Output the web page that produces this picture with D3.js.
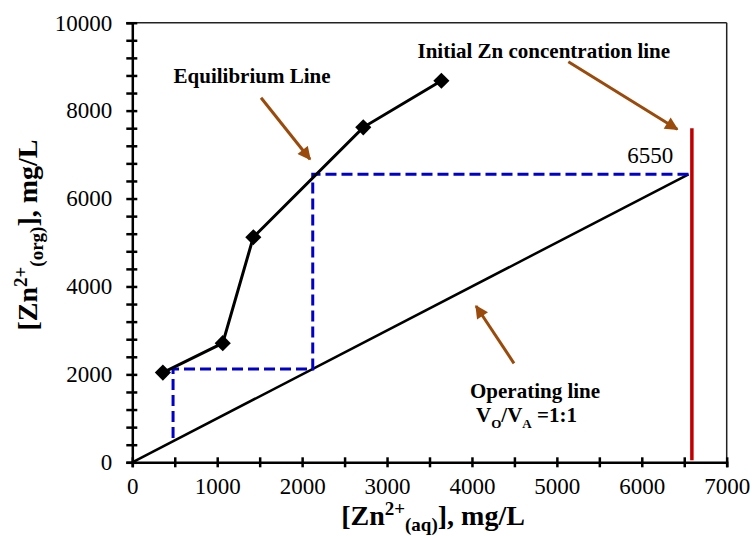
<!DOCTYPE html>
<html lang="en">
<head>
<meta charset="utf-8">
<title>Zn McCabe-Thiele</title>
<script src="https://cdn.jsdelivr.net/npm/d3@7"></script>
<style>
  body { margin: 0; background: #fff; }
  svg text { font-family: "Liberation Serif", "Times New Roman", serif; }
  .axis path, .axis line { stroke: #000; stroke-width: 2.5; fill: none; }
  .axis text { font-size: 23px; fill: #000; }
  .ann { font-weight: bold; font-size: 21px; }
</style>
</head>
<body>
<script>
// equilibrium data (aqueous vs organic Zn, mg/L)
var eqAq  = [360, 1065, 1425, 2720, 3640];
var eqOrg = [2040, 2710, 5120, 7620, 8680];

// operating line, VO/VA = 1:1
var opAq  = [0, 6550];
var opOrg = [0, 6550];

// stage stepping (dashed)
var stepAq  = [6550, 2125, 2125, 480, 480];
var stepOrg = [6550, 6550, 2125, 2125, 480];

// initial concentration line
var initAq = 6590;
var initTop = 7600;

var xTicks = d3.range(0, 7001, 500);
var yTicks = d3.range(0, 10001, 400);

var w = 753, h = 536;
var mLeft = 132.3, mTop = 22.7, pw = 594.4, ph = 439.6;
var serif = "'Liberation Serif', 'Times New Roman', serif";

var svg = d3.select("body").append("svg")
  .attr("width", w).attr("height", h)
  .attr("font-family", serif);

var x = d3.scaleLinear().domain([0, 7000]).range([mLeft, mLeft + pw]);
var y = d3.scaleLinear().domain([0, 10000]).range([mTop + ph, mTop]);

// frame on top / right
svg.append("line").attr("x1", x(0)).attr("x2", x(7000)).attr("y1", y(10000)).attr("y2", y(10000))
  .attr("stroke", "#222").attr("stroke-width", 1.5);
svg.append("line").attr("x1", x(7000)).attr("x2", x(7000)).attr("y1", y(10000)).attr("y2", y(0))
  .attr("stroke", "#222").attr("stroke-width", 1.5);

var xAxis = d3.axisBottom(x).tickValues(xTicks).tickSizeOuter(0).tickSize(5)
  .tickFormat(function(d) { return d % 1000 === 0 ? d : ""; });
var yAxis = d3.axisLeft(y).tickValues(yTicks).tickSizeOuter(0).tickSize(6)
  .tickFormat(function(d) { return d % 2000 === 0 ? d : ""; });

var gx = svg.append("g").attr("class", "axis")
  .attr("transform", "translate(0," + y(0) + ")").call(xAxis)
  .attr("font-family", serif).attr("font-size", 23);
gx.selectAll(".tick line").attr("y1", -5);
gx.selectAll(".tick text").attr("dy", "1.05em").attr("y", 8);

var gy = svg.append("g").attr("class", "axis")
  .attr("transform", "translate(" + x(0) + ",0)").call(yAxis)
  .attr("font-family", serif).attr("font-size", 23);
gy.selectAll(".tick line").attr("x1", 5);
gy.selectAll(".tick text").attr("x", -20);

// red initial concentration line
svg.append("line")
  .attr("x1", x(initAq)).attr("x2", x(initAq))
  .attr("y1", y(initTop)).attr("y2", y(0) - 2)
  .attr("stroke", "#C00000").attr("stroke-width", 3.5);

// operating line
svg.append("path")
  .datum(d3.zip(opAq, opOrg))
  .attr("d", d3.line().x(function(d) { return x(d[0]); }).y(function(d) { return y(d[1]); }))
  .attr("fill", "none").attr("stroke", "#000").attr("stroke-width", 2.5);

// stepping
svg.append("path")
  .datum(d3.zip(stepAq, stepOrg))
  .attr("d", d3.line().x(function(d) { return x(d[0]); }).y(function(d) { return y(d[1]); }))
  .attr("fill", "none").attr("stroke", "#0000CC").attr("stroke-width", 3)
  .attr("stroke-dasharray", "11,5");

// equilibrium line
var eq = d3.zip(eqAq, eqOrg);
svg.append("path")
  .datum(eq)
  .attr("d", d3.line().x(function(d) { return x(d[0]); }).y(function(d) { return y(d[1]); }))
  .attr("fill", "none").attr("stroke", "#000").attr("stroke-width", 3);

svg.selectAll(".pt").data(eq).enter().append("path")
  .attr("class", "pt")
  .attr("d", d3.symbol().type(d3.symbolSquare).size(130))
  .attr("transform", function(d) { return "translate(" + x(d[0]) + "," + y(d[1]) + ") rotate(45)"; })
  .attr("fill", "#000");

// arrows
var brown = "#9A4A0A";
svg.append("defs").append("marker")
  .attr("id", "ah").attr("viewBox", "0 0 10 10").attr("refX", 9).attr("refY", 5)
  .attr("markerWidth", 5).attr("markerHeight", 4.4).attr("markerUnits", "strokeWidth")
  .attr("orient", "auto")
  .append("path").attr("d", "M0,0 L10,5 L0,10 Z").attr("fill", brown);

var arrows = [
  [1516, 8294, 2093, 6893],
  [5135, 9113, 6418, 7575],
  [4495, 2252, 4048, 3556]
];
svg.selectAll(".arr").data(arrows).enter().append("line")
  .attr("x1", function(d) { return x(d[0]); }).attr("y1", function(d) { return y(d[1]); })
  .attr("x2", function(d) { return x(d[2]); }).attr("y2", function(d) { return y(d[3]); })
  .attr("stroke", brown).attr("stroke-width", 3).attr("marker-end", "url(#ah)");

// annotations
svg.append("text").attr("class", "ann").attr("text-anchor", "middle")
  .attr("x", x(1410)).attr("y", y(8628)).text("Equilibrium Line");
svg.append("text").attr("class", "ann").attr("text-anchor", "middle")
  .attr("x", x(4846)).attr("y", y(9197)).text("Initial Zn concentration line");
svg.append("text").attr("text-anchor", "end").attr("font-size", 23)
  .attr("x", x(6371)).attr("y", y(6802)).text("6550");
svg.append("text").attr("class", "ann").attr("text-anchor", "middle")
  .attr("x", x(4743)).attr("y", y(1470)).text("Operating line");
var vt = svg.append("text").attr("class", "ann")
  .attr("x", x(4048)).attr("y", y(924));
vt.append("tspan").text("V");
vt.append("tspan").attr("dy", 6).style("font-size", "13px").text("O");
vt.append("tspan").attr("dy", -6).text("/V");
vt.append("tspan").attr("dy", 6).style("font-size", "13px").text("A");
vt.append("tspan").attr("dy", -6).text(" =1:1");

// axis titles
var xt = svg.append("text").attr("text-anchor", "middle")
  .attr("x", 433).attr("y", 525)
  .style("font-weight", "bold").style("font-size", "28px");
xt.append("tspan").text("[Zn");
xt.append("tspan").attr("dy", -10).style("font-size", "19px").text("2+");
xt.append("tspan").attr("dy", 16).style("font-size", "19px").text("(aq)");
xt.append("tspan").attr("dy", -6).text("], mg/L");

var yt = svg.append("text").attr("text-anchor", "middle")
  .attr("transform", "translate(37,235) rotate(-90)")
  .style("font-weight", "bold").style("font-size", "28px");
yt.append("tspan").text("[Zn");
yt.append("tspan").attr("dy", -10).style("font-size", "19px").text("2+");
yt.append("tspan").attr("dy", 16).style("font-size", "19px").text("(org)");
yt.append("tspan").attr("dy", -6).text("], mg/L");
</script>
</body>
</html>
